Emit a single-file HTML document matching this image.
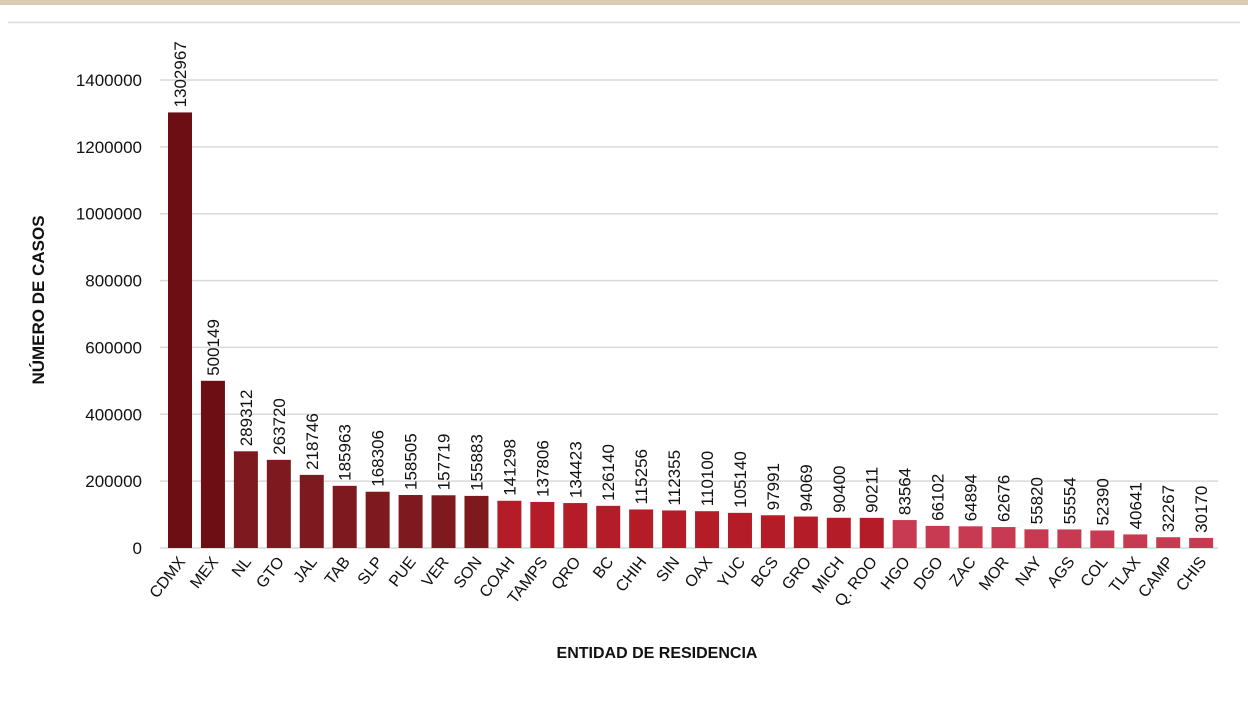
<!DOCTYPE html>
<html><head><meta charset="utf-8"><style>
body{margin:0;background:#fff;font-family:"Liberation Sans",sans-serif}
</style></head><body>
<svg width="1248" height="698" xmlns="http://www.w3.org/2000/svg">
<rect x="0" y="0" width="1248" height="5" fill="#d9ccb0"/>
<line x1="8" y1="22.5" x2="1240" y2="22.5" stroke="#dcdcdc" stroke-width="1.5"/>
<g id="grid"></g><g id="bars"></g><g id="labels"></g><g id="ticks"></g><g id="xl"></g>
<text x="44" y="300" transform="rotate(-90 44 300)" text-anchor="middle" font-size="17" font-weight="bold" fill="#111">NÚMERO DE CASOS</text>
<text x="657" y="658" text-anchor="middle" font-size="16" font-weight="bold" fill="#111">ENTIDAD DE RESIDENCIA</text>
</svg>
<script>
const categories=["CDMX","MEX","NL","GTO","JAL","TAB","SLP","PUE","VER","SON","COAH","TAMPS","QRO","BC","CHIH","SIN","OAX","YUC","BCS","GRO","MICH","Q. ROO","HGO","DGO","ZAC","MOR","NAY","AGS","COL","TLAX","CAMP","CHIS"];
const values=[1302967,500149,289312,263720,218746,185963,168306,158505,157719,155883,141298,137806,134423,126140,115256,112355,110100,105140,97991,94069,90400,90211,83564,66102,64894,62676,55820,55554,52390,40641,32267,30170];
const tickValues=[0,200000,400000,600000,800000,1000000,1200000,1400000];
const NS="http://www.w3.org/2000/svg";
const y0=548,pxPer=(548-80)/1400000;
function yScale(v){return y0-v*pxPer;}
function xScale(i){return 180+i*32.94;}
function mk(t,a,p){const e=document.createElementNS(NS,t);for(const k in a)e.setAttribute(k,a[k]);document.getElementById(p).appendChild(e);return e;}
tickValues.forEach(v=>{
 const l=mk("line",{x1:160,x2:1218,y1:yScale(v),y2:yScale(v),stroke:"#d9d9d9","stroke-width":1.5},"grid");
 
 
 const t=mk("text",{x:142,y:yScale(v)+6,"text-anchor":"end","font-size":17,fill:"#111"},"ticks");
 t.textContent=v;
 
 
});
function color(i){return i<2?"#6c0e13":i<10?"#7e1a1f":i<22?"#b41d28":"#c83a52";}
categories.forEach((c,i)=>{
 const x=xScale(i),v=values[i],y=yScale(v);
 const b=mk("rect",{x:x-12,y:y,width:24,height:y0-y,fill:color(i)},"bars");
 
 
 const t=mk("text",{x:x+6,y:y-5,transform:`rotate(-90 ${x+6} ${y-5})`,"font-size":17,fill:"#111"},"labels");
 t.textContent=v;
 
 
 const xl=mk("text",{x:x+6,y:562,transform:`rotate(-52 ${x+6} 562)`,"text-anchor":"end","font-size":16,fill:"#111"},"xl");
 xl.textContent=c;
 
 
});
</script>
</body></html>
